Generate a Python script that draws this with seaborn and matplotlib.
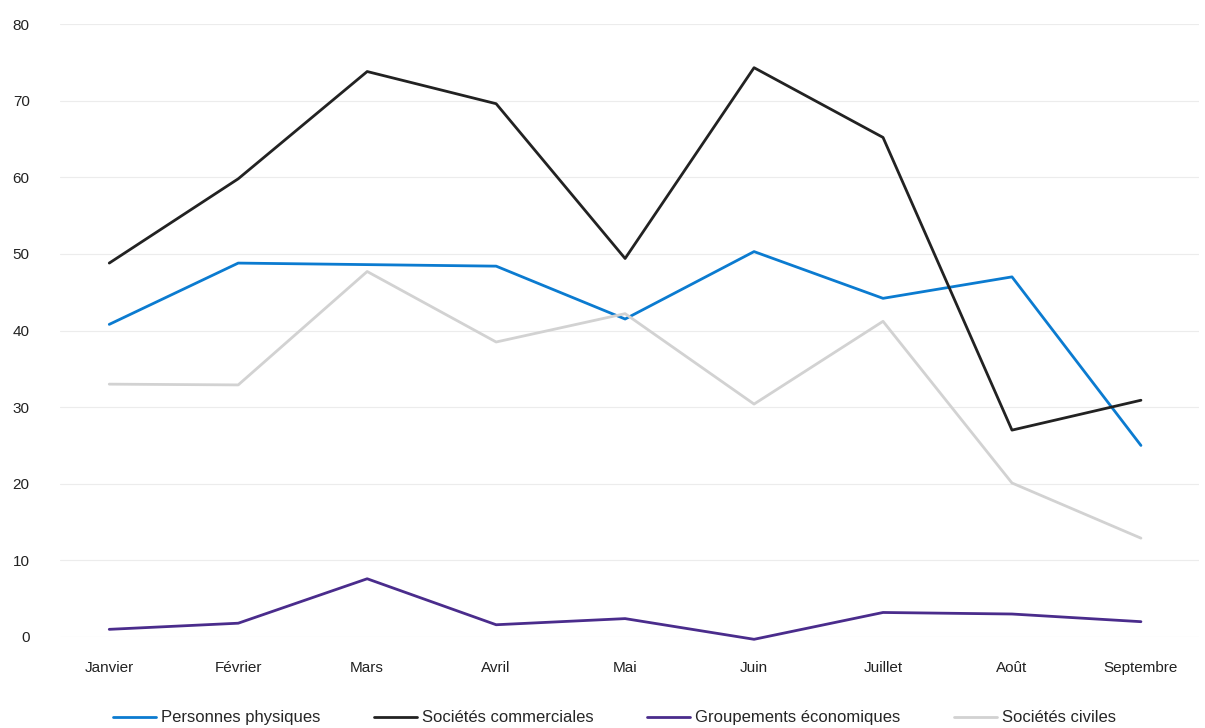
import matplotlib
matplotlib.use("Agg")
import matplotlib.pyplot as plt
import seaborn as sns
import pandas as pd

months = ["Janvier", "Février", "Mars", "Avril", "Mai", "Juin", "Juillet", "Août", "Septembre"]
personnes_physiques = [40.8, 48.8, 48.6, 48.4, 41.5, 50.3, 44.2, 47.0, 25.0]
societes_commerciales = [48.8, 59.8, 73.8, 69.6, 49.4, 74.3, 65.2, 27.0, 30.9]
groupements_economiques = [1.0, 1.8, 7.6, 1.6, 2.4, -0.3, 3.2, 3.0, 2.0]
societes_civiles = [33.0, 32.9, 47.7, 38.5, 42.2, 30.4, 41.2, 20.1, 12.9]
series_names = ["Personnes physiques", "Sociétés commerciales", "Groupements économiques", "Sociétés civiles"]
y_ticks = [0, 10, 20, 30, 40, 50, 60, 70, 80]

colors = {
    "Personnes physiques": "#0b7bd0",
    "Sociétés commerciales": "#222222",
    "Groupements économiques": "#4a2c8c",
    "Sociétés civiles": "#d2d2d2",
}

values = [personnes_physiques, societes_commerciales, groupements_economiques, societes_civiles]
rows = []
for name, vals in zip(series_names, values):
    for m, v in zip(months, vals):
        rows.append({"Mois": m, "Valeur": v, "Série": name})
df = pd.DataFrame(rows)

sns.set_theme(style="white")
plt.rcParams["font.family"] = ["Liberation Sans", "DejaVu Sans"]

fig = plt.figure(figsize=(12.05, 7.28), dpi=100)
ax = fig.add_axes([0.05, 0.125, 0.945, 0.842])

sns.lineplot(data=df, x="Mois", y="Valeur", hue="Série", hue_order=series_names,
             palette=colors, linewidth=2.0, sort=False, ax=ax, legend=True)
for ln in ax.get_lines():
    ln.set_clip_on(False)

ax.set_ylim(0, 80)
ax.set_yticks(y_ticks)
ax.set_xlim(-0.38, 8.45)
ax.grid(axis="y", color="#ececec", linewidth=0.8)
ax.set_axisbelow(True)
for s in ax.spines.values():
    s.set_visible(False)
ax.set_xlabel("")
ax.set_ylabel("")
ax.tick_params(axis="y", length=0, pad=22, labelsize=11, labelcolor="#222222")
ax.tick_params(axis="x", length=0, pad=17, labelsize=11, labelcolor="#222222")

handles, labels = ax.get_legend_handles_labels()
ax.get_legend().remove()
fig.legend(handles, labels, loc="lower center", bbox_to_anchor=(0.51, -0.017), ncol=4,
           frameon=False, fontsize=12, handlelength=2.6, handletextpad=0.3, columnspacing=3.2)

fig.savefig("out.png", dpi=100)
